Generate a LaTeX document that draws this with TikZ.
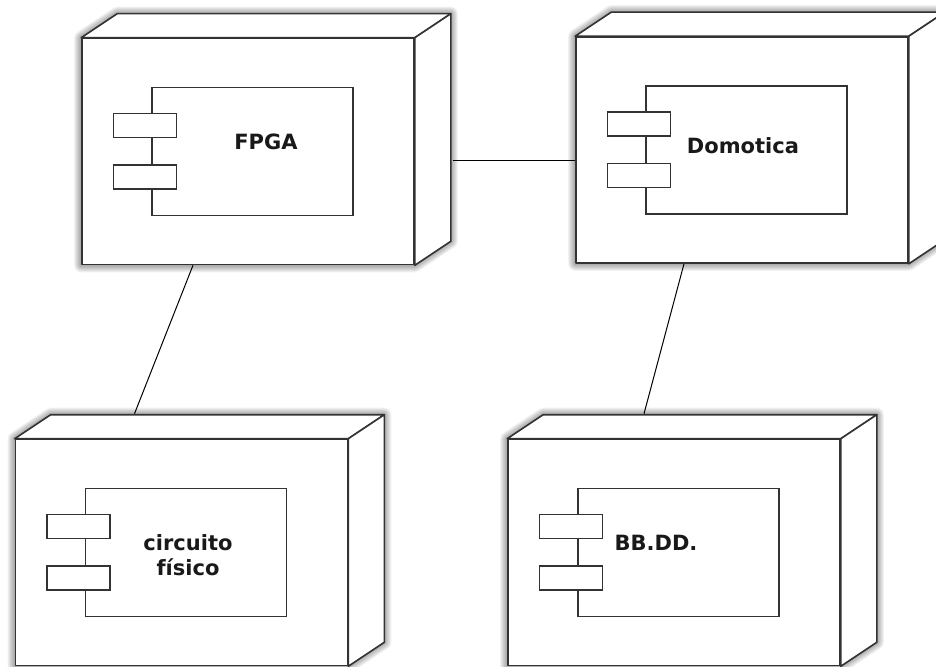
\documentclass[tikz,border=0pt]{standalone}
\usepackage{fontspec}
\setsansfont{DejaVu Sans}
\usetikzlibrary{backgrounds}

\tikzset{
  nodebox/.style={draw=black!80, fill=white, line width=1.6pt, line join=round,
    minimum width=332pt, minimum height=226pt, inner sep=0pt},
  nodeface/.style={draw=black!80, fill=white, line width=1.6pt, line join=round},
  compbox/.style={draw=black!80, fill=white, line width=1.5pt,
    minimum width=201pt, minimum height=128pt, inner sep=0pt},
  portbox/.style={draw=black!80, fill=white, line width=1.5pt,
    minimum width=63pt, minimum height=24pt, inner sep=0pt},
  complabel/.style={font=\sffamily\bfseries\fontsize{21}{25}\selectfont,
    text=black!90, align=center, inner sep=0pt},
  link/.style={draw=black, line width=1pt},
  softshadow/.style={draw=black, opacity=0.05, line join=round},
}

\begin{document}
\begin{tikzpicture}[x=1pt, y=-1pt]
    \useasboundingbox (0,0) rectangle (936,666);
    \clip (0,0) rectangle (936,666);
    \begin{scope}[on background layer]
        \fill[white] (0,0) rectangle (936,666);
    \end{scope}

    % Nodes (3D boxes) with component inside
    \foreach \n/\x/\y in {fpga/248/151.5, domo/742/150, circ/181.5/552.5, bbdd/674/552.5} {
        \node[nodebox] (\n) at (\x,\y) {};
        \draw[nodeface] (\n.north west) -- ++(36,-24) -- ([shift={(36,-24)}]\n.north east) -- (\n.north east) -- cycle;
        \draw[nodeface] (\n.north east) -- ++(36,-24) -- ([shift={(36,-24)}]\n.south east) -- (\n.south east) -- cycle;
        \node[compbox] (\n-comp) at ([xshift=4.5pt]\n.center) {};
        \node[portbox] (\n-p1) at ([xshift=-6.5pt, yshift=26pt]\n-comp.west) {};
        \node[portbox] (\n-p2) at ([xshift=-6.5pt, yshift=-25.5pt]\n-comp.west) {};
        % shadow
        \begin{scope}[on background layer, transform canvas={yshift=-6pt}]
            \foreach \w in {14,12,...,2} {
                \draw[softshadow, line width=\w pt] (\n.south west) -- (\n.north west)
                    -- ([shift={(36,-24)}]\n.north west) -- ([shift={(36,-24)}]\n.north east)
                    -- ([shift={(36,-24)}]\n.south east) -- (\n.south east) -- cycle;
            }
        \end{scope}
    }

    % Labels
    \node[complabel] (fpga-label) at (266,142) {FPGA};
    \node[complabel] (domo-label) at (743,146) {Domotica};
    \node[complabel] (circ-label) at (188,555) {circuito\\físico};
    \node[complabel] (bbdd-label) at (656,543) {BB.DD.};

    % Connections
    \draw[link] ([xshift=38pt, yshift=-8.5pt]fpga.east) -- ([yshift=-10pt]domo.west);
    \draw[link] ([xshift=-55pt]fpga.south) -- ([xshift=-47pt, yshift=25pt]circ.north);
    \draw[link] ([xshift=-58pt]domo.south) -- ([xshift=-30pt, yshift=25pt]bbdd.north);
\end{tikzpicture}
\end{document}
